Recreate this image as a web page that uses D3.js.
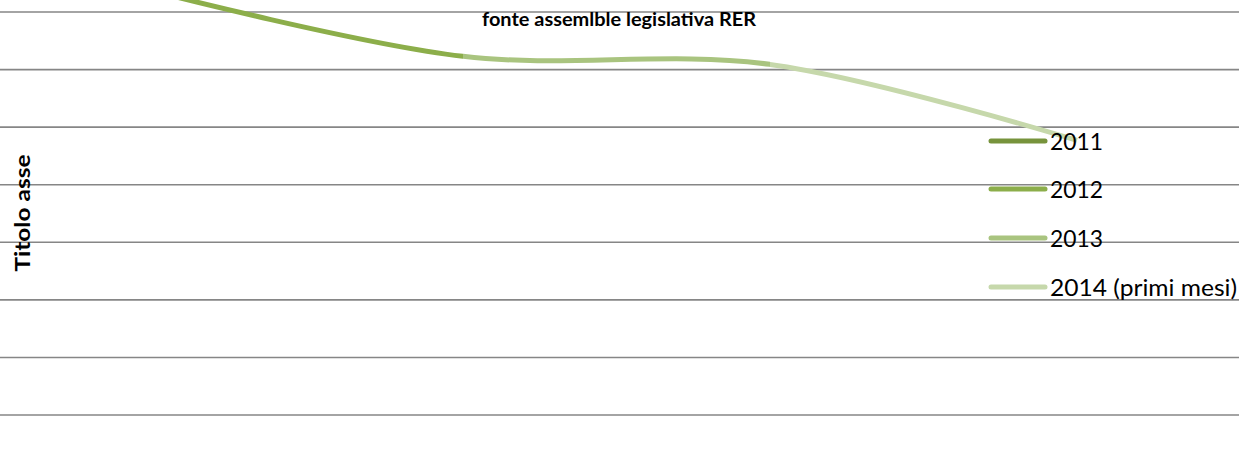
<!DOCTYPE html>
<html>
<head>
<meta charset="utf-8">
<script src="https://cdn.jsdelivr.net/npm/d3@7/dist/d3.min.js"></script>
<style>
  html, body { margin: 0; padding: 0; background: #ffffff; overflow: hidden; }
  svg { display: block; }
</style>
</head>
<body>
<svg id="chart" width="1239" height="468"></svg>
<script>
// ---- data ----
const categories = ["2011", "2012", "2013", "2014 (primi mesi)"];
const values = [835, 723, 709, 577];
const seriesColors = ["#77933c", "#8cae4a", "#a9c47f", "#c6d8ab"];
const yTicks = [0, 100, 200, 300, 400, 500, 600, 700, 800];
const chartTitle = "fonte assemlble legislativa RER";
const axisTitle = "Titolo asse";

const W = 1239, H = 468;
const svg = d3.select("#chart");

const x = d3.scalePoint().domain(categories).range([156, 1077]);
const y = d3.scaleLinear().domain([0, 800]).range([472.6, 12]);

// gridlines
svg.append("g").selectAll("line")
  .data(yTicks)
  .join("line")
  .attr("x1", 0).attr("x2", W)
  .attr("y1", d => y(d)).attr("y2", d => y(d))
  .attr("stroke", "#868686")
  .attr("stroke-width", 1.6);

// y axis title
svg.append("text")
  .attr("transform", "translate(30,213) rotate(-90)")
  .attr("text-anchor", "middle")
  .attr("font-family", "Lato, 'Open Sans', sans-serif")
  .attr("font-weight", "bold")
  .attr("font-size", 20)
  .attr("textLength", 117)
  .attr("lengthAdjust", "spacingAndGlyphs")
  .attr("fill", "#000")
  .text(axisTitle);

// chart subtitle
svg.append("text")
  .attr("x", 619).attr("y", 26)
  .attr("text-anchor", "middle")
  .attr("font-family", "Lato, 'Open Sans', sans-serif")
  .attr("font-weight", "bold")
  .attr("font-size", 18)
  .attr("textLength", 274)
  .attr("lengthAdjust", "spacingAndGlyphs")
  .attr("fill", "#000")
  .text(chartTitle);

// smoothed line, coloured per segment
const pts = categories.map((c, i) => [x(c), y(values[i])]);
const line = d3.line().curve(d3.curveCatmullRom.alpha(0.5));
const defs = svg.append("defs");
for (let i = 0; i < pts.length - 1; i++) {
  const x0 = i === 0 ? -50 : pts[i][0];
  const x1 = i === pts.length - 2 ? pts[i + 1][0] + 10 : pts[i + 1][0];
  defs.append("clipPath").attr("id", "seg" + i)
    .append("rect")
    .attr("x", x0).attr("y", -100)
    .attr("width", x1 - x0).attr("height", H + 200);
  svg.append("path")
    .attr("d", line(pts))
    .attr("fill", "none")
    .attr("stroke", seriesColors[i + 1])
    .attr("stroke-width", 5)
    .attr("clip-path", "url(#seg" + i + ")");
}

// legend
const legendY = [141, 189, 238, 287];
const legendTextLen = [53, 53, 53, 187];
const lg = svg.append("g").selectAll("g")
  .data(categories)
  .join("g")
  .attr("transform", (d, i) => `translate(0,${legendY[i]})`);
lg.append("line")
  .attr("x1", 991).attr("x2", 1045)
  .attr("y1", 0).attr("y2", 0)
  .attr("stroke", (d, i) => seriesColors[i])
  .attr("stroke-width", 5)
  .attr("stroke-linecap", "round");
lg.append("text")
  .attr("x", 1050).attr("y", 9)
  .attr("font-family", "Lato, 'Open Sans', sans-serif")
  .attr("font-size", 24)
  .attr("textLength", (d, i) => legendTextLen[i])
  .attr("lengthAdjust", "spacingAndGlyphs")
  .attr("fill", "#000")
  .text(d => d);
</script>
</body>
</html>
